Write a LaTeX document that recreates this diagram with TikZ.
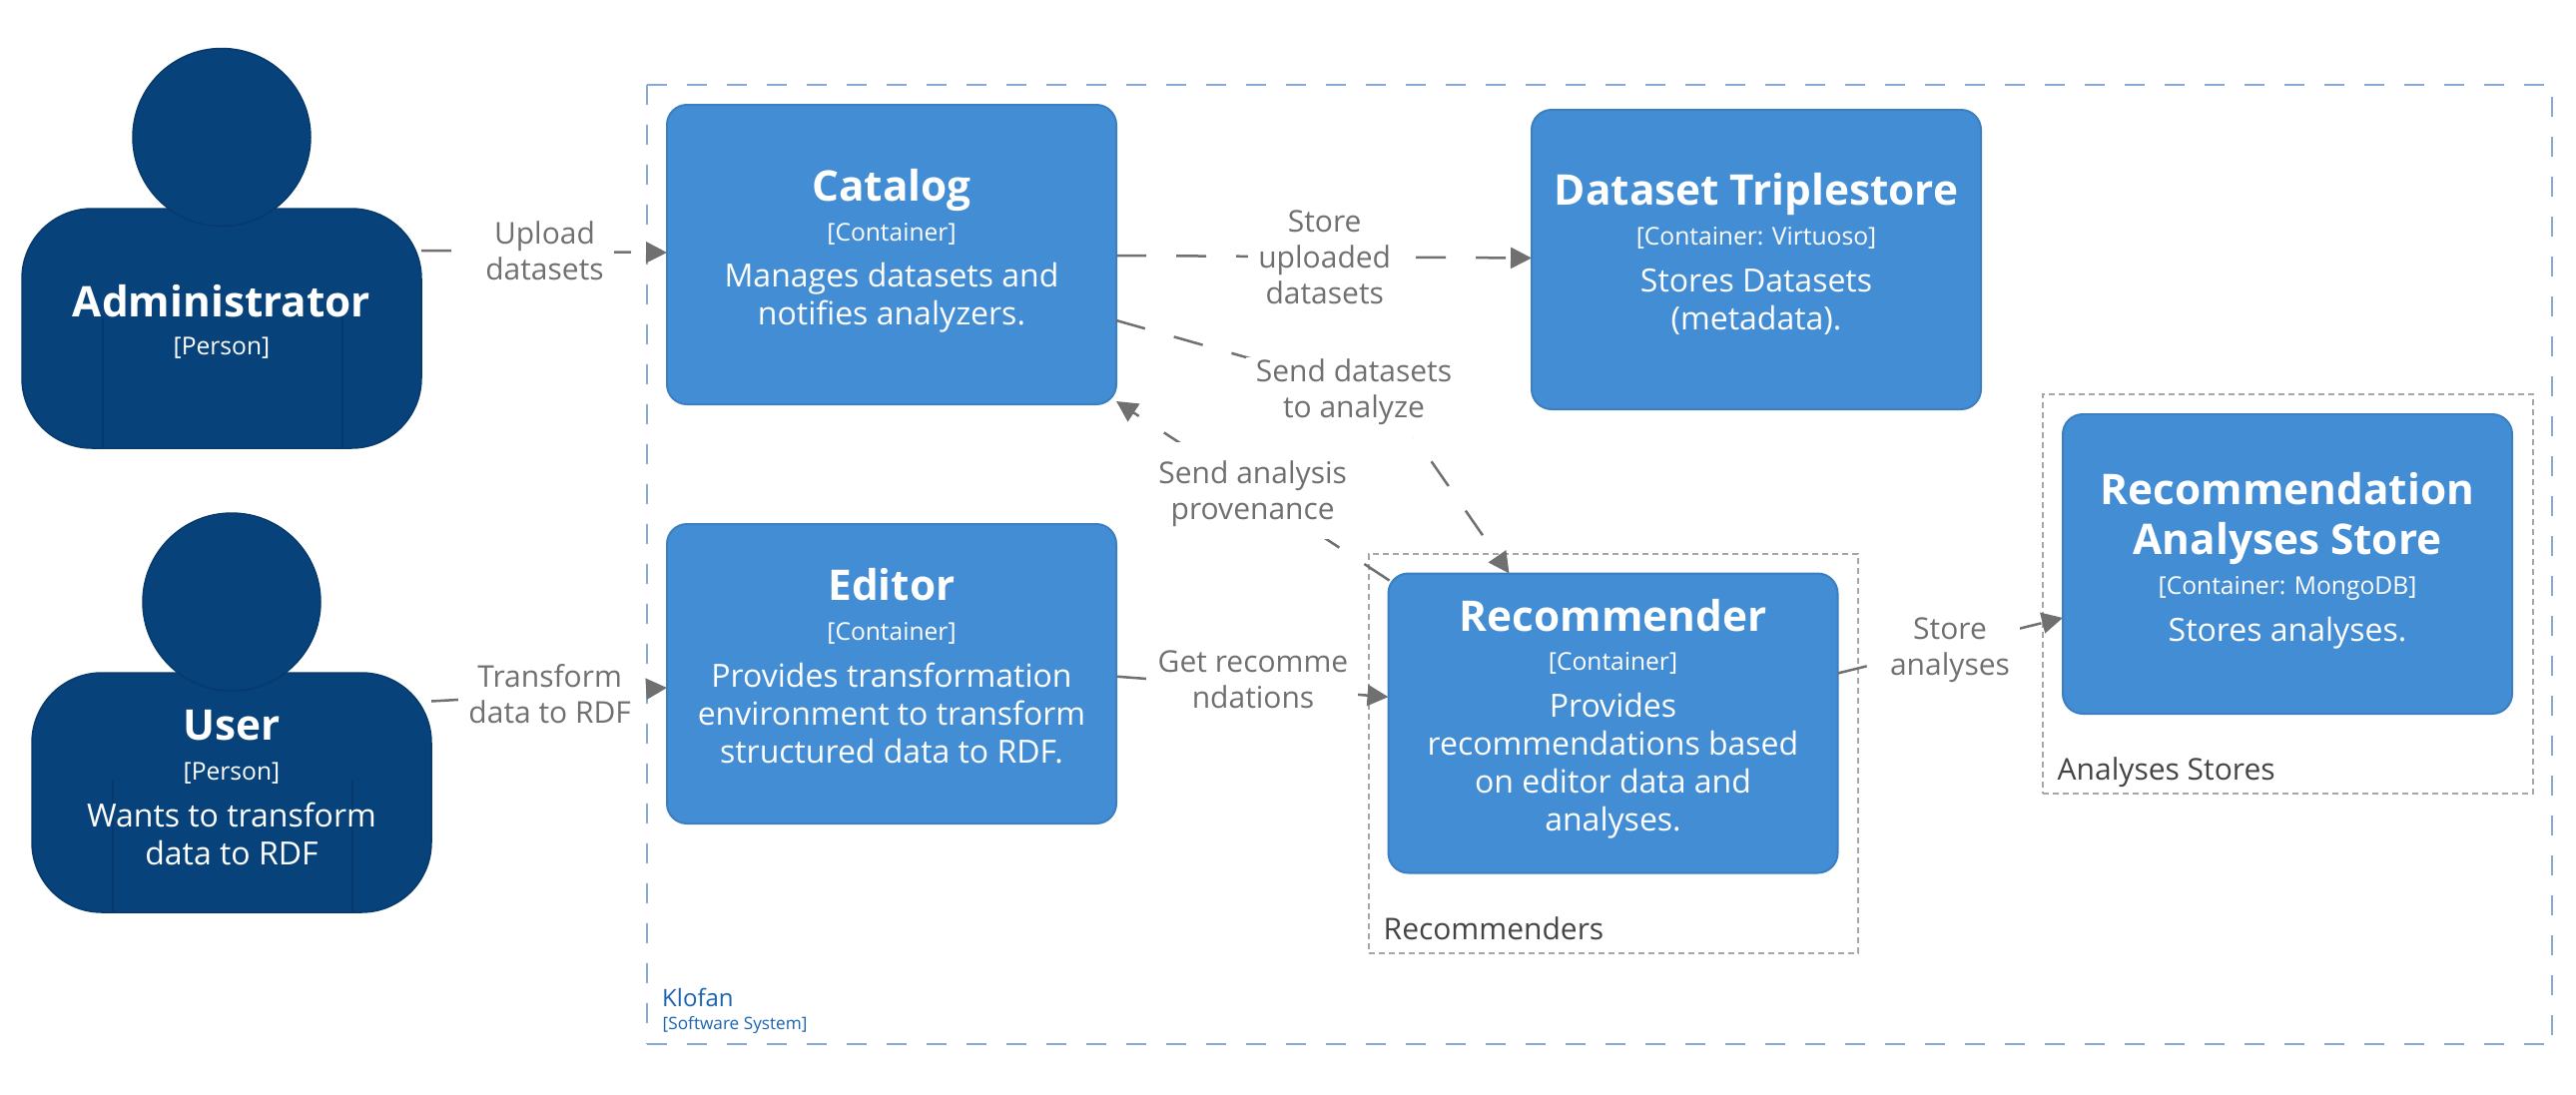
\documentclass[tikz,border=0pt]{standalone}
\usepackage{fontspec}
\setmainfont{Open Sans}
\usetikzlibrary{arrows.meta,calc}
\definecolor{personfill}{HTML}{08427B}
\definecolor{personline}{HTML}{073A6C}
\definecolor{boxfill}{HTML}{438DD5}
\definecolor{boxline}{HTML}{3C7FC0}
\definecolor{linkgrey}{HTML}{707070}
\definecolor{boundline}{HTML}{87A9D4}
\definecolor{boundtext}{HTML}{1A63B0}
\definecolor{groupline}{HTML}{A6A6A6}
\definecolor{grouptext}{HTML}{444444}
\newcommand{\ttlfont}{\fontsize{42.3}{50}\selectfont\bfseries}
\newcommand{\metfont}{\fontsize{24.6}{30}\selectfont}
\newcommand{\dscfont}{\fontsize{32}{38}\selectfont}
\newcommand{\lnkfont}{\fontsize{30}{36}\selectfont}
\tikzset{
  person/.style={draw=personline,fill=personfill,line width=1.5pt,rounded corners=70pt,
    minimum width=400pt,minimum height=240pt,inner sep=0pt,outer sep=0pt},
  head/.style={circle,draw=personline,fill=personfill,line width=1.5pt,minimum size=178pt,inner sep=0pt,outer sep=0pt},
  seam/.style={draw=personline,line width=1.5pt},
  boxnode/.style={draw=boxline,fill=boxfill,line width=2pt,rounded corners=20pt,
    minimum width=450pt,minimum height=300pt,inner sep=0pt,outer sep=0pt},
  ttl/.style={text=white,font=\ttlfont,align=center,inner sep=0pt,anchor=base},
  met/.style={text=white,font=\metfont,align=center,inner sep=0pt,anchor=base},
  dsc/.style={text=white,font=\dscfont,align=center,inner sep=0pt,anchor=base},
  lnk/.style={fill=white,text=linkgrey,font=\lnkfont,align=center,inner xsep=10pt,inner ysep=0pt,
    text height=60pt,text depth=20pt,anchor=base},
  link/.style={draw=linkgrey,line width=2.5pt,dash pattern=on 30pt off 30pt,
    -{Triangle[length=21pt,width=21pt]}},
  bound/.style={draw=boundline,line width=2.5pt,dash pattern=on 20pt off 20pt},
  grp/.style={draw=groupline,line width=2pt,dash pattern=on 6pt off 4pt},
  grplbl/.style={text=grouptext,font=\fontsize{30}{36}\selectfont,anchor=base west,inner sep=0pt},
}
\begin{document}
\begin{tikzpicture}[x=1pt,y=-1pt]
\useasboundingbox (0,0) rectangle (2580,1096);
% boundaries
\node[minimum width=1908pt,minimum height=961pt,inner sep=0,outer sep=0] (klofan) at (1602,565.5) {};
\draw[bound] (klofan.north west) -- (klofan.north east) -- (klofan.south east);
\draw[bound] (klofan.north west) -- (klofan.south west);
\draw[bound] (klofan.south west) -- (klofan.south east);
\node[grp,minimum width=490pt,minimum height=400pt,inner sep=0,outer sep=0] (recgroup) at (1615.5,755) {};
\node[grp,minimum width=491pt,minimum height=400pt,inner sep=0,outer sep=0] (storegroup) at (2291,595) {};
\node[text=boundtext,font=\fontsize{24}{28}\selectfont,anchor=base west,inner sep=0] (klofanname) at (663,1008.5) {Klofan};
\node[text=boundtext,font=\fontsize{17.2}{22}\selectfont,anchor=base west,inner sep=0] (klofanmeta) at (663.5,1031.5) {[Software System]};
\node[grplbl] (reclabel) at (1385.5,941) {Recommenders};
\node[grplbl] (storelabel) at (2060.5,781.5) {Analyses Stores};
% persons
\node[person] (admin) at (222,329) {};
\draw[seam] (103,317) -- (103,450) (343,317) -- (343,450);
\node[head] (adminhead) at (222,137.5) {};
\node[person] (user) at (232,794) {};
\draw[seam] (113,781) -- (113,915) (353,781) -- (353,915);
\node[head] (userhead) at (232,603) {};
% boxes
\node[boxnode] (catalog) at (893,255) {};
\node[boxnode] (triple) at (1759,260) {};
\node[boxnode] (editor) at (893,675) {};
\node[boxnode] (rec) at (1615.5,724.5) {};
\node[boxnode] (store) at (2291,565) {};
% texts
\node[ttl] (adminT) at (222,317) {Administrator};
\node[met] (adminM) at (222,355) {[Person]};
\node[ttl] (userT) at (232,741) {User};
\node[met] (userM) at (232,781) {[Person]};
\node[dsc] (userD) at (232,866) {Wants to transform\\data to RDF};
\node[ttl] (catalogT) at (893,201.7) {Catalog};
\node[met] (catalogM) at (893,241.5) {[Container]};
\node[dsc] (catalogD) at (893,325.7) {Manages datasets and\\notifies analyzers.};
\node[ttl] (tripleT) at (1759,205.7) {Dataset Triplestore};
\node[met] (tripleM) at (1759,245.7) {[Container: Virtuoso]};
\node[dsc] (tripleD) at (1759,330.3) {Stores Datasets\\(metadata).};
\node[ttl] (editorT) at (893,601.7) {Editor};
\node[met] (editorM) at (893,641) {[Container]};
\node[dsc] (editorD) at (893,764.5) {Provides transformation\\environment to transform\\structured data to RDF.};
\node[ttl] (recT) at (1615.5,632) {Recommender};
\node[met] (recM) at (1615.5,671) {[Container]};
\node[dsc] (recD) at (1615.5,832) {Provides\\recommendations based\\on editor data and\\analyses.};
\node[ttl] (storeT) at (2291,555) {Recommendation\\Analyses Store};
\node[met] (storeM) at (2291,595) {[Container: MongoDB]};
\node[dsc] (storeD) at (2291,642) {Stores analyses.};
% connectors
\coordinate (bend) at (1389,398);
\draw[link] ([yshift=78pt]admin.east) -- ([yshift=2pt]catalog.west);
\draw[link] ([yshift=-1pt]catalog.east) -- ([yshift=1.5pt]triple.west);
\draw[link] ([yshift=-66pt]catalog.east) -- (bend) -- ([xshift=-104pt]rec.north);
\draw[link] ([xshift=1pt,yshift=-7pt]rec.north west) -- ([yshift=3pt]catalog.south east);
\draw[link] ([yshift=91.5pt]user.east) -- ([yshift=-14pt]editor.west);
\draw[link] ([yshift=-2.7pt]editor.east) -- ([yshift=26.3pt]rec.west);
\draw[link] ([yshift=50pt]rec.east) -- ([yshift=-54pt]store.west);
% labels
\node[lnk] (l1) at (545.5,280) {Upload\\datasets};
\node[lnk,text height=96pt] (l2) at (1326.7,304) {Store\\uploaded\\datasets};
\node[lnk] (l3) at (1356,418) {Send datasets\\to analyze};
\node[lnk,text height=77pt] (l4) at (1254.7,520) {Send analysis\\provenance};
\node[lnk] (l5) at (550.7,724) {Transform\\data to RDF};
\node[lnk] (l6) at (1255,709) {Get recomme\\ndations};
\node[lnk] (l7) at (1953,676) {Store\\analyses};
\end{tikzpicture}
\end{document}
